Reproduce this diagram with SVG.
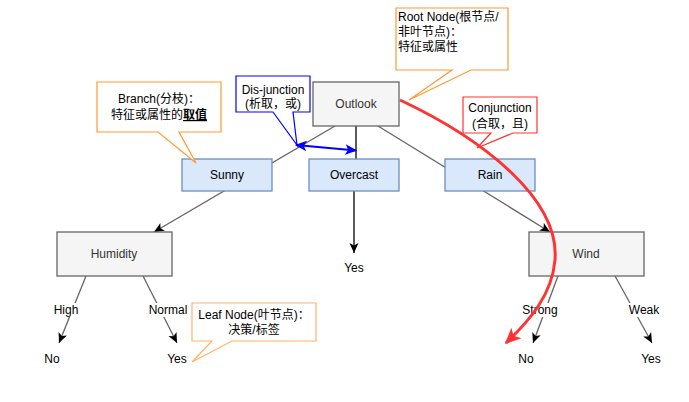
<svg xmlns="http://www.w3.org/2000/svg" width="689" height="402" viewBox="0 0 689 402">
<defs>
<style>
text{font-family:"Liberation Sans","Noto Sans CJK SC",sans-serif;font-size:12px;}
.c{text-anchor:middle;}
.gray{stroke:#666666;stroke-width:1.3;fill:none;}
.blk{stroke:#000000;stroke-width:1.3;fill:none;}
.attr rect{fill:#f5f5f5;stroke:#666666;stroke-width:1.3;}
.attr text{fill:#333333;}
.val rect{fill:#dae8fc;stroke:#6c8ebf;stroke-width:1.3;}
.lbl{fill:#ffffff;stroke:none;}
.call{fill:#ffffff;stroke-width:1.2;}
</style>
<marker id="ar" viewBox="0 0 10 10" refX="10" refY="5" markerWidth="10" markerHeight="10" markerUnits="userSpaceOnUse" orient="auto">
<path d="M0,0.5 L10,5 L0,9.5 L2.5,5 Z" fill="#000000"/>
</marker>
<marker id="arb" viewBox="0 0 10 10" refX="9" refY="5" markerWidth="12" markerHeight="12" markerUnits="userSpaceOnUse" orient="auto-start-reverse">
<path d="M0,0.5 L10,5 L0,9.5 L2.5,5 Z" fill="#0000ff"/>
</marker>
<marker id="arr" viewBox="0 0 10 10" refX="9" refY="5" markerWidth="16" markerHeight="16" markerUnits="userSpaceOnUse" orient="auto">
<path d="M0,0.5 L10,5 L0,9.5 L2.5,5 Z" fill="#ff3333"/>
</marker>
</defs>
<rect width="689" height="402" fill="#ffffff"/>

<g id="connectors">
<line class="gray" x1="335" y1="126" x2="154" y2="232" marker-end="url(#ar)"/>
<line class="blk" x1="356" y1="126" x2="356" y2="159"/>
<line class="blk" x1="354" y1="191" x2="354" y2="253" marker-end="url(#ar)"/>
<line class="gray" x1="378" y1="126" x2="550" y2="232" marker-end="url(#ar)"/>
<line class="gray" x1="86" y1="276" x2="59" y2="343" marker-end="url(#ar)"/>
<line class="gray" x1="143" y1="276" x2="177" y2="343" marker-end="url(#ar)"/>
<line class="gray" x1="558" y1="276" x2="533" y2="343" marker-end="url(#ar)"/>
<line class="gray" x1="615" y1="276" x2="652" y2="343" marker-end="url(#ar)"/>
<g id="edge-labels">
<rect class="lbl" x="52" y="303" width="28" height="14"/>
<text class="c" x="66" y="314">High</text>
<rect class="lbl" x="147" y="303" width="42" height="14"/>
<text class="c" x="168" y="314">Normal</text>
<rect class="lbl" x="521" y="303" width="38" height="14"/>
<text class="c" x="540" y="314">Strong</text>
<rect class="lbl" x="629" y="303" width="30" height="14"/>
<text class="c" x="644" y="314">Weak</text>
</g>
</g>

<g id="outlook" class="attr"><rect x="313" y="82" width="86" height="44"/><text class="c" x="356" y="108">Outlook</text></g>
<g id="sunny" class="val"><rect x="182" y="159" width="90" height="32"/><text class="c" x="227" y="179">Sunny</text></g>
<g id="overcast" class="val"><rect x="309" y="159" width="90" height="32"/><text class="c" x="354" y="179">Overcast</text></g>
<g id="rain" class="val"><rect x="445" y="159" width="90" height="32"/><text class="c" x="490" y="179">Rain</text></g>
<g id="humidity" class="attr"><rect x="57" y="232" width="115" height="44"/><text class="c" x="114" y="258">Humidity</text></g>
<g id="wind" class="attr"><rect x="529" y="232" width="115" height="44"/><text class="c" x="586" y="258">Wind</text></g>
<g id="yes-overcast"><text class="c" x="354" y="272">Yes</text></g>
<g id="no-high"><text class="c" x="52" y="363">No</text></g>
<g id="yes-normal"><text class="c" x="177" y="363">Yes</text></g>
<g id="no-strong"><text class="c" x="526" y="363">No</text></g>
<g id="yes-weak"><text class="c" x="651" y="363">Yes</text></g>

<g id="callout-branch">
<path class="call" stroke="#ff9933" d="M97,82 H221 V132 H179 L196,163 L158,132 H97 Z"/>
<text class="c" x="159" y="103">Branch(分枝)：</text>
<text class="c" x="159" y="119">特征或属性的<tspan font-weight="bold" text-decoration="underline">取值</tspan></text>
</g>
<g id="callout-disjunction">
<path class="call" stroke="#0000ff" d="M236,76 H310 V112 H293 L297,145 L273,112 H236 Z"/>
<text class="c" x="273" y="94">Dis-junction</text>
<text class="c" x="273" y="108">(析取，或)</text>
</g>
<g id="callout-root">
<path class="call" stroke="#ff9933" d="M396,8 H508 V70 H471 L409,100 L452,70 H396 Z"/>
<text x="398" y="21">Root Node(根节点/</text>
<text x="398" y="36">非叶节点)：</text>
<text x="398" y="51">特征或属性</text>
</g>
<g id="callout-conjunction">
<path class="call" stroke="#ff3333" d="M463,97 H537 V133 H513 L477,148 L491,133 H463 Z"/>
<text class="c" x="500" y="112">Conjunction</text>
<text class="c" x="500" y="128">(合取，且)</text>
</g>
<g id="callout-leaf">
<path class="call" stroke="#ffb366" d="M192,303 H316 V341 H232 L192,362 L212,341 H192 Z"/>
<text class="c" x="254" y="319">Leaf Node(叶节点)：</text>
<text class="c" x="254" y="334">决策/标签</text>
</g>

<g id="highlight-connectors">
<line x1="296" y1="145" x2="356" y2="150.5" stroke="#0000ff" stroke-width="2.2" marker-start="url(#arb)" marker-end="url(#arb)"/>
<path d="M400,100 C485,140 560,200 555,260 C552,295 530,320 506,343" fill="none" stroke="#ff3333" stroke-width="3" marker-end="url(#arr)"/>
</g>
</svg>
